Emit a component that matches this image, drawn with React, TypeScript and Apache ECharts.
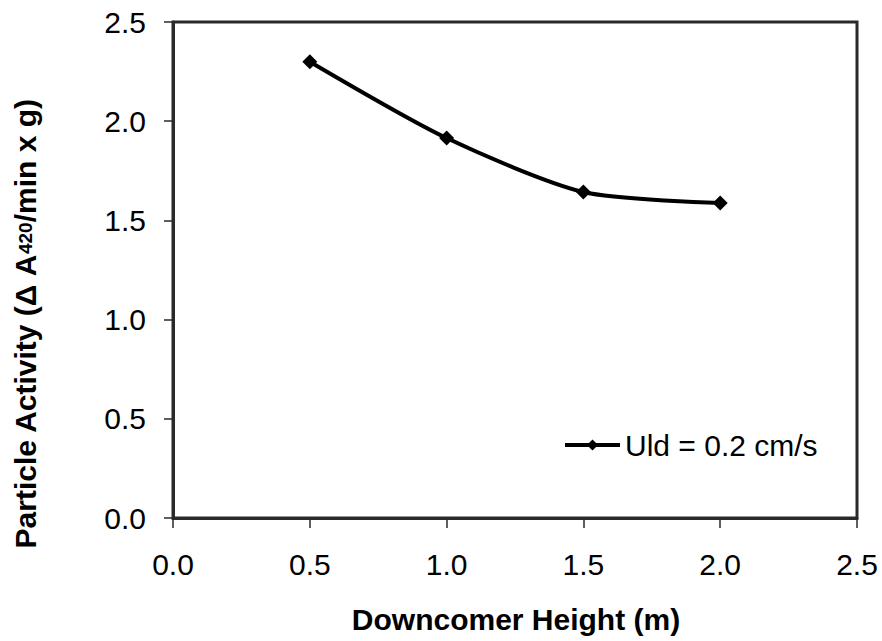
import React, { useEffect, useRef } from "react";
import * as echarts from "echarts";

const heights = [0.5, 1.0, 1.5, 2.0];
const activity = [2.3, 1.915, 1.643, 1.588];
const seriesName = "Uld = 0.2 cm/s";
const xTitle = "Downcomer Height (m)";

const FONT = "'Liberation Sans', Arial, sans-serif";

export default function App() {
  const ref = useRef<HTMLDivElement>(null);
  useEffect(() => {
    if (!ref.current) return;
    const chart = echarts.init(ref.current, null, { renderer: "svg" });
    const data = heights.map((h, i) => [h, activity[i]]);
    chart.setOption({
      animation: false,
      backgroundColor: "#ffffff",
      textStyle: { fontFamily: FONT },
      grid: {
        left: 173,
        right: 25,
        top: 22,
        bottom: 123,
        show: true,
        borderColor: "#2a2a2a",
        borderWidth: 3,
        backgroundColor: "transparent",
      },
      legend: {
        left: 563,
        top: 430,
        padding: 0,
        itemWidth: 55,
        itemHeight: 14,
        data: [seriesName],
        lineStyle: { width: 4 },
        textStyle: {
          fontSize: 30,
          color: "#000",
          fontFamily: FONT,
        },
      },
      xAxis: {
        type: "value",
        min: 0,
        max: 2.5,
        interval: 0.5,
        axisLine: { show: true, lineStyle: { color: "#2a2a2a", width: 3 } },
        axisTick: { show: true, inside: false, length: 10, lineStyle: { color: "#2a2a2a", width: 1.5 } },
        splitLine: { show: false },
        axisLabel: {
          margin: 31,
          fontSize: 30,
          color: "#000",
          fontFamily: FONT,
          formatter: (v: number) => v.toFixed(1),
        },
      },
      yAxis: {
        type: "value",
        min: 0,
        max: 2.5,
        interval: 0.5,
        axisLine: { show: true, lineStyle: { color: "#2a2a2a", width: 3 } },
        axisTick: { show: true, inside: false, length: 9, lineStyle: { color: "#2a2a2a", width: 1.5 } },
        splitLine: { show: false },
        axisLabel: {
          margin: 27,
          fontSize: 30,
          color: "#000",
          fontFamily: FONT,
          formatter: (v: number) => v.toFixed(1),
        },
      },
      graphic: [
        {
          type: "text",
          x: 516,
          y: 619,
          style: {
            text: xTitle,
            font: `bold 30px ${FONT}`,
            fill: "#000",
            align: "center",
            verticalAlign: "middle",
          },
        },
        {
          type: "text",
          x: 25,
          y: 324,
          rotation: Math.PI / 2,
          style: {
            text: "{b|Particle Activity (Δ A}{s|420}{b|/min x g)}",
            align: "center",
            verticalAlign: "middle",
            fill: "#000",
            rich: {
              b: { fontSize: 30, fontWeight: "bold", fontFamily: FONT, lineHeight: 34, fill: "#000" },
              s: {
                fontSize: 19,
                fontWeight: "bold",
                fontFamily: FONT,
                verticalAlign: "middle",
                fill: "#000",
              },
            },
          },
        },
      ],
      series: [
        {
          name: seriesName,
          type: "line",
          data,
          smooth: 0.25,
          symbol: "diamond",
          symbolSize: 15,
          lineStyle: { color: "#000", width: 4 },
          itemStyle: { color: "#000" },
        },
      ],
    });
    return () => chart.dispose();
  }, []);
  return (
    <div
      ref={ref}
      style={{ position: "fixed", left: 0, top: 0, width: 882, height: 641, background: "#fff" }}
    />
  );
}
